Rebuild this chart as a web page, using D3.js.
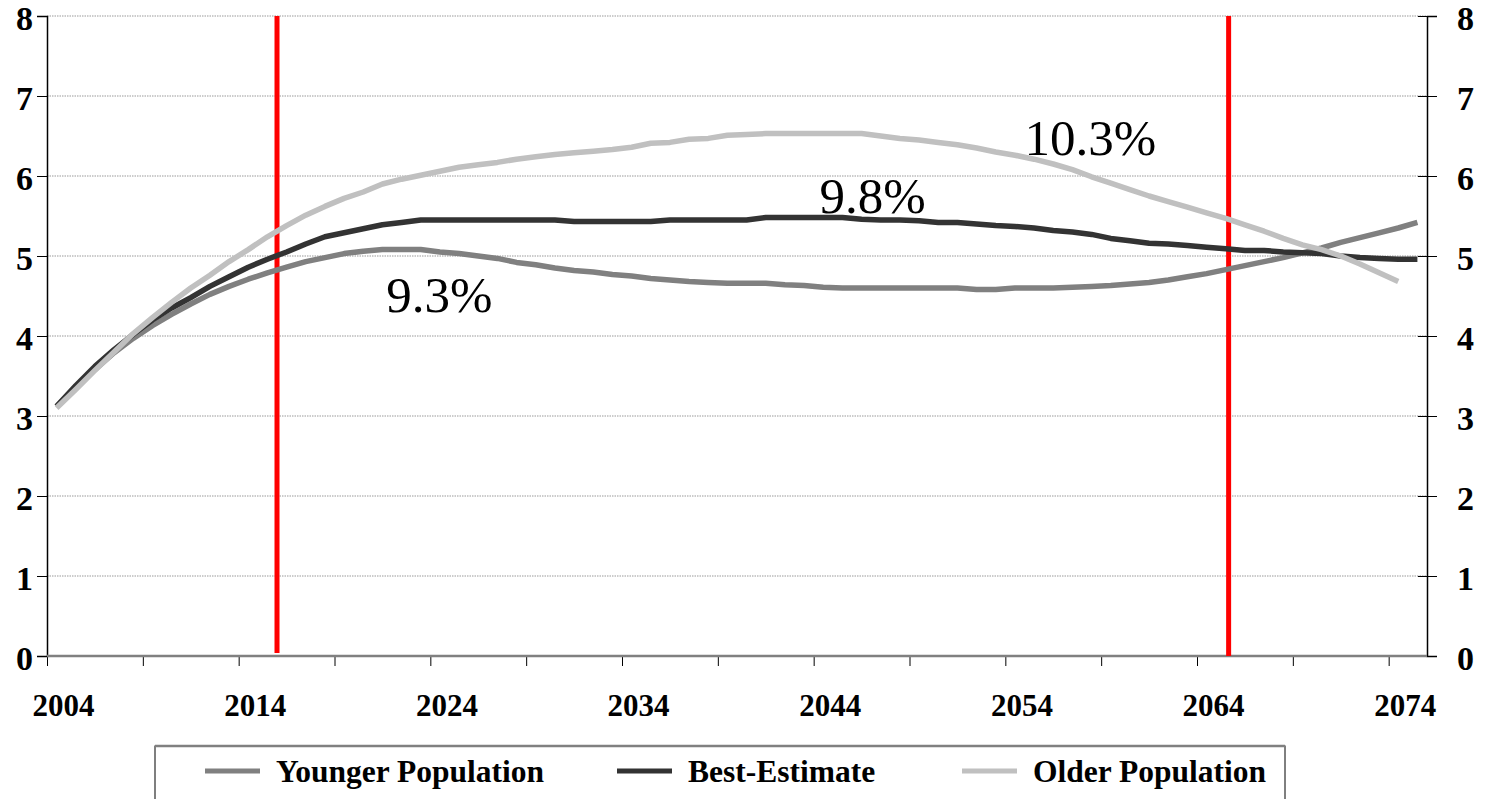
<!DOCTYPE html>
<html lang="en">
<head>
<meta charset="UTF-8">
<title>Population scenarios</title>
<script src="https://d3js.org/d3.v7.min.js"></script>
<style>
  body { margin: 0; background: #fff; }
  svg text { font-family: "Liberation Serif", "Times New Roman", serif; }
</style>
</head>
<body>
<script>
// categories: 2004 .. 2075
var years = d3.range(2004, 2076);

var younger = [3.12, 3.35, 3.58, 3.79, 3.97, 4.13, 4.27, 4.40, 4.52, 4.62,
  4.71, 4.79, 4.86, 4.93, 4.98, 5.03, 5.06, 5.08, 5.08, 5.08,
  5.05, 5.03, 5.00, 4.97, 4.92, 4.89, 4.85, 4.82, 4.80, 4.77,
  4.75, 4.72, 4.70, 4.68, 4.67, 4.66, 4.66, 4.66, 4.64, 4.63,
  4.61, 4.60, 4.60, 4.60, 4.60, 4.60, 4.60, 4.60, 4.58, 4.58,
  4.60, 4.60, 4.60, 4.61, 4.62, 4.63, 4.65, 4.67, 4.70, 4.74,
  4.78, 4.83, 4.88, 4.93, 4.98, 5.04, 5.10, 5.17, 5.23, 5.29,
  5.35, 5.42];

var bestEstimate = [3.12, 3.38, 3.62, 3.83, 4.02, 4.20, 4.35, 4.48, 4.62, 4.74,
  4.86, 4.96, 5.05, 5.15, 5.24, 5.29, 5.34, 5.39, 5.42, 5.45,
  5.45, 5.45, 5.45, 5.45, 5.45, 5.45, 5.45, 5.43, 5.43, 5.43,
  5.43, 5.43, 5.45, 5.45, 5.45, 5.45, 5.45, 5.48, 5.48, 5.48,
  5.48, 5.48, 5.46, 5.45, 5.45, 5.44, 5.42, 5.42, 5.40, 5.38,
  5.37, 5.35, 5.32, 5.30, 5.27, 5.22, 5.19, 5.16, 5.15, 5.13,
  5.11, 5.09, 5.07, 5.07, 5.05, 5.04, 5.03, 5.00, 4.98, 4.97,
  4.96, 4.96];

// older scenario stops at 2074
var older = [3.10, 3.33, 3.57, 3.80, 4.03, 4.23, 4.42, 4.60, 4.76, 4.93,
  5.08, 5.24, 5.38, 5.51, 5.62, 5.72, 5.80, 5.90, 5.96, 6.01,
  6.06, 6.11, 6.14, 6.17, 6.21, 6.24, 6.27, 6.29, 6.31, 6.33,
  6.36, 6.41, 6.42, 6.46, 6.47, 6.51, 6.52, 6.53, 6.53, 6.53,
  6.53, 6.53, 6.53, 6.50, 6.47, 6.45, 6.42, 6.39, 6.35, 6.30,
  6.26, 6.21, 6.15, 6.08, 5.99, 5.91, 5.83, 5.75, 5.68, 5.61,
  5.54, 5.47, 5.39, 5.31, 5.22, 5.14, 5.08, 5.00, 4.90, 4.79,
  4.68];

var seriesNames = ["Younger Population", "Best-Estimate", "Older Population"];
var seriesColors = ["#808080", "#333333", "#c0c0c0"];

var yTicks = [0, 1, 2, 3, 4, 5, 6, 7, 8];
var xLabelYears = [2004, 2014, 2024, 2034, 2044, 2054, 2064, 2074];
var markerYears = [2015.5, 2065.15];

var noteTexts = ["9.3%", "9.8%", "10.3%"];
var noteYears = [2021.2, 2043.8, 2054.5];
var noteValues = [4.3, 5.54, 6.26];

var width = 1486, height = 799;
var margin = {top: 16, right: 59, bottom: 143, left: 47};

var svg = d3.select("body").append("svg")
    .attr("width", width)
    .attr("height", height);

// year axis: each year is one category slot
var x = d3.scaleLinear()
    .domain([years[0] - 0.5, years[years.length - 1] + 0.5])
    .range([margin.left, width - margin.right]);
var y = d3.scaleLinear()
    .domain([0, 8])
    .range([height - margin.bottom, margin.top]);

var x0 = x.range()[0], x1 = x.range()[1];
var yBottom = y(0);

// gridlines
svg.append("g")
    .selectAll("line")
    .data(yTicks.filter(function (d) { return d > 0; }))
    .enter().append("line")
    .attr("x1", x0).attr("x2", x1)
    .attr("y1", function (d) { return y(d); })
    .attr("y2", function (d) { return y(d); })
    .attr("stroke", "#9a9a9a")
    .attr("stroke-width", 1.2)
    .attr("stroke-dasharray", "1.5,1");

// left axis
var gl = svg.append("g")
    .attr("transform", "translate(" + x0 + ",0)")
    .call(d3.axisLeft(y).tickValues(yTicks).tickSize(10).tickPadding(4).tickFormat(d3.format("d")));
gl.select(".domain").attr("stroke", "#000").attr("stroke-width", 1.5);
gl.selectAll(".tick line").attr("stroke", "#000");
gl.selectAll("text")
    .attr("font-size", 34).attr("font-weight", "bold").attr("fill", "#000")
    .attr("dy", "0.4em");

// right axis
var gr = svg.append("g")
    .attr("transform", "translate(" + x1 + ",0)")
    .call(d3.axisRight(y).tickValues(yTicks).tickSize(10).tickPadding(20).tickFormat(d3.format("d")));
gr.select(".domain").attr("stroke", "#000").attr("stroke-width", 1.5);
gr.selectAll(".tick line").attr("stroke", "#000").attr("x1", -9);
gr.selectAll("text")
    .attr("font-size", 34).attr("font-weight", "bold").attr("fill", "#000")
    .attr("dy", "0.4em");

// bottom axis: tick marks every 5 years between categories
var tickYears = d3.range(years[0] - 0.5, years[years.length - 1], 5);
var gb = svg.append("g")
    .attr("transform", "translate(0," + yBottom + ")")
    .call(d3.axisBottom(x).tickValues(tickYears).tickSize(10).tickFormat(""));
gb.select(".domain").remove();
gb.selectAll(".tick line").attr("stroke", "#000");

svg.append("line")
    .attr("x1", x0).attr("x2", x1)
    .attr("y1", yBottom).attr("y2", yBottom)
    .attr("stroke", "#808080").attr("stroke-width", 2.5);

// year labels
var gx = svg.append("g")
    .attr("transform", "translate(0," + yBottom + ")")
    .call(d3.axisBottom(x).tickValues(xLabelYears).tickSize(0).tickPadding(38).tickFormat(d3.format("d")));
gx.select(".domain").remove();
gx.selectAll("text")
    .attr("font-size", 31).attr("font-weight", "bold").attr("fill", "#000")
    .attr("dx", 6.5);

// red marker lines
svg.append("g")
    .selectAll("line")
    .data(markerYears)
    .enter().append("line")
    .attr("x1", function (d) { return x(d); })
    .attr("x2", function (d) { return x(d); })
    .attr("y1", y(8))
    .attr("y2", function (d, i) { return i === 0 ? yBottom - 3 : yBottom; })
    .attr("stroke", "#ff0000")
    .attr("stroke-width", 5);

// series
var seriesValues = [younger, bestEstimate, older];
var line = d3.line()
    .x(function (d) { return x(d.year); })
    .y(function (d) { return y(d.value); });

seriesValues.forEach(function (vals, i) {
    var pts = vals.map(function (v, j) { return {year: years[j], value: v}; });
    svg.append("path")
        .datum(pts)
        .attr("d", line)
        .attr("fill", "none")
        .attr("stroke", seriesColors[i])
        .attr("stroke-width", 5.5)
        .attr("stroke-linejoin", "round")
        .attr("stroke-linecap", "butt");
});

// annotations
svg.append("g")
    .selectAll("text")
    .data(noteTexts)
    .enter().append("text")
    .attr("x", function (d, i) { return x(noteYears[i]); })
    .attr("y", function (d, i) { return y(noteValues[i]); })
    .attr("font-size", 51)
    .attr("fill", "#000")
    .text(function (d) { return d; });

// legend
var legend = svg.append("g");
legend.append("rect")
    .attr("x", 155).attr("y", 746)
    .attr("width", 1130).attr("height", 70)
    .attr("fill", "#fff")
    .attr("stroke", "#000").attr("stroke-width", 1);
legend.append("line")
    .attr("x1", 155).attr("x2", 1285)
    .attr("y1", 746).attr("y2", 746)
    .attr("stroke", "#808080").attr("stroke-width", 2.5);

var legendX = [205, 617, 962];
seriesNames.forEach(function (name, i) {
    legend.append("line")
        .attr("x1", legendX[i]).attr("x2", legendX[i] + 55)
        .attr("y1", 771).attr("y2", 771)
        .attr("stroke", seriesColors[i]).attr("stroke-width", 5);
    legend.append("text")
        .attr("x", legendX[i] + 71).attr("y", 782)
        .attr("font-size", 31.5).attr("font-weight", "bold").attr("fill", "#000")
        .text(name);
});
</script>
</body>
</html>
